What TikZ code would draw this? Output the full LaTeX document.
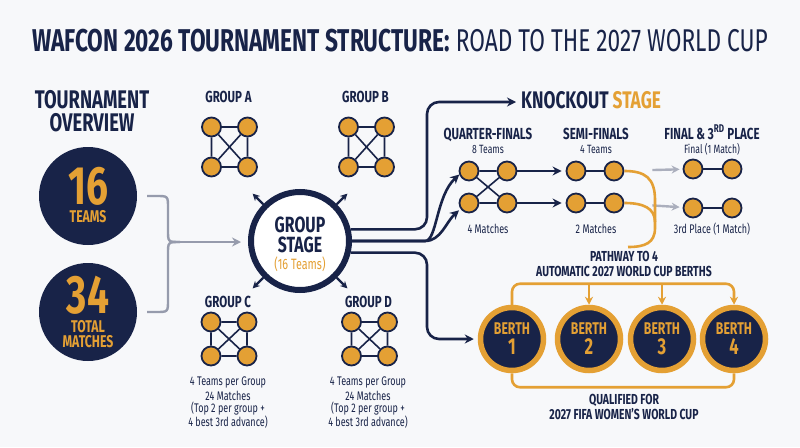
\documentclass[tikz,border=0pt]{standalone}
\usepackage{fontspec}
\setmainfont{Fira Sans}[FakeStretch=0.72]
\usetikzlibrary{arrows.meta,positioning,calc}
\definecolor{wafnavy}{RGB}{24,35,72}
\definecolor{wafgold}{RGB}{228,160,52}
\definecolor{wafbg}{RGB}{247,248,250}
\definecolor{wafgray}{RGB}{150,155,172}
\newcommand{\fsz}[2]{\fontsize{#1}{#2}\selectfont}

\begin{document}
\begin{tikzpicture}[x=1pt,y=-1pt,
    team/.style={circle, draw=wafnavy, line width=1.8pt, fill=wafgold, minimum size=19pt, inner sep=0pt},
    link/.style={wafnavy, line width=1.6pt},
    head/.style={text=wafnavy, align=center, inner sep=1pt},
    goldtxt/.style={text=wafgold, align=center, inner sep=1pt},
    disc/.style={circle, fill=wafnavy, minimum size=98pt, inner sep=0pt},
    berth/.style={circle, fill=wafnavy, draw=wafgold, line width=5.5pt, minimum size=63pt, inner sep=0pt,
                  text=wafgold, align=center},
    flow/.style={wafnavy, line width=2.6pt, -{Stealth[length=9pt,width=9pt]}},
    spoke/.style={wafnavy, line width=2.2pt, -{Stealth[length=7pt,width=7pt]}},
    bracket/.style={wafgray, line width=2.4pt},
    fade/.style={wafgray!80, line width=2.4pt, -{Stealth[length=8pt,width=8pt]}},
    goldline/.style={wafgold, line width=2.6pt},
    goldarrow/.style={goldline, -{Stealth[length=8pt,width=8pt]}}
]
\fill[wafbg] (0,0) rectangle (800,447);
\useasboundingbox (0,0) rectangle (800,447);

% title
\node[head, font=\fsz{31.5}{31.5}] (title) at (400,41)
    {\textbf{WAFCON 2026 TOURNAMENT STRUCTURE:} ROAD TO THE 2027 WORLD CUP};

% overview
\node[head, font=\fsz{25.5}{22.5}\bfseries] (ovl) at (92,111) {TOURNAMENT\\OVERVIEW};
\node[disc] (n16) at (88,196) {};
\node[goldtxt, font=\fsz{17}{15}\bfseries] (n16txt) at (88,195.5) {{\fsz{54}{54}16}\\[3pt]TEAMS};
\node[disc] (n34) at (88,312) {};
\node[goldtxt, font=\fsz{17}{15}\bfseries] (n34txt) at (88,312) {{\fsz{54}{54}34}\\[4pt]TOTAL\\MATCHES};

\coordinate (brc) at (180,242);
\draw[bracket] ([xshift=10pt]n16.east) -- (156,196) .. controls (168,196) .. (168,208)
    -- (168,230) .. controls (168,242) .. (brc);
\draw[bracket] ([xshift=10pt]n34.east) -- (156,312) .. controls (168,312) .. (168,300)
    -- (168,254) .. controls (168,242) .. (brc);

% group stage
\node[circle, draw=wafnavy, fill=white, line width=6pt, minimum size=98pt] (GS) at (300,241) {};
\node[head, font=\fsz{22}{20}\bfseries] (gsl) at (300,235) {GROUP\\STAGE};
\node[goldtxt, font=\fsz{15}{15}] (gsn) at (300,264) {(16 Teams)};
\draw[bracket, -{Stealth[length=9pt,width=9pt]}, shorten >=7pt] (brc) -- (GS.west |- brc);
\foreach \a in {45,135,225,315}
    \draw[spoke] (GS.\a) -- ($(GS.\a)+(\a:15pt)$);

% groups
\foreach \g/\cx/\cy/\hy/\ly in {A/229.5/147/20/97, B/366.5/147/20/97, C/229/339/17/302, D/369.5/339/17/302}{
    \node[head, font=\fsz{16}{16}\bfseries] (lbl\g) at (\cx-1,\ly) {GROUP \g};
    \node[team] (\g1) at (\cx-18,\cy-\hy) {};
    \node[team] (\g2) at (\cx+18,\cy-\hy) {};
    \node[team] (\g3) at (\cx-18,\cy+\hy) {};
    \node[team] (\g4) at (\cx+18,\cy+\hy) {};
    \draw[link] (\g1) -- (\g2) (\g2) -- (\g4) (\g4) -- (\g3) (\g3) -- (\g1)
                (\g1) -- (\g4) (\g2) -- (\g3);
}
\foreach \g/\cx in {C/228, D/368}{
    \node[head, font=\fsz{12.5}{12.5}, anchor=base] (tpg\g) at (\cx,385) {4 Teams per Group};
    \node[head, font=\fsz{12.5}{10.5}, anchor=north] (mat\g) at (\cx,390)
        {24 Matches\\(Top 2 per group +\\4 best 3rd advance)};
}

% knockout stage
\node[head, font=\fsz{24}{24}\bfseries, anchor=base west] (kot) at (520,108)
    {KNOCKOUT \textcolor{wafgold}{STAGE}};

\node[team] (Q1) at (469,171) {};
\node[team] (Q2) at (507,171) {};
\node[team] (Q3) at (469,203) {};
\node[team] (Q4) at (507,203) {};
\draw[link] (Q1) -- (Q2) (Q3) -- (Q4) (Q1) -- (Q4) (Q3) -- (Q2);

\node[team] (S1) at (576,171) {};
\node[team] (S2) at (614,171) {};
\node[team] (S3) at (576,203) {};
\node[team] (S4) at (614,203) {};
\draw[link] (S1) -- (S2) (S3) -- (S4);

\node[team] (F1) at (693,169) {};
\node[team] (F2) at (732,169) {};
\node[team] (F3) at (693,208) {};
\node[team] (F4) at (732,208) {};
\draw[link] (F1) -- (F2) (F3) -- (F4);

\foreach \n/\cx/\t/\s/\m in {qf/488/QUARTER-FINALS/8 Teams/4 Matches,
                             sf/596/SEMI-FINALS/4 Teams/2 Matches,
                             fi/712/FINAL \& 3\textsuperscript{RD} PLACE/Final (1 Match)/3rd Place (1 Match)}{
    \node[head, font=\fsz{16}{16}\bfseries, anchor=base] (\n head) at (\cx,139) {\t};
    \node[head, font=\fsz{12}{12}, anchor=base] (\n sub) at (\cx,153) {\s};
    \node[head, font=\fsz{12.5}{12.5}, anchor=base] (\n mat) at (\cx,233) {\m};
}

\draw[flow, shorten >=4pt] (Q2) -- (S1);
\draw[flow, shorten >=4pt] (Q4) -- (S3);
\draw[fade, shorten <=28pt, shorten >=3pt] (S2) -- (F1);
\draw[fade, shorten <=28pt, shorten >=3pt] (S4) -- (F3);

% flows out of the group stage
\coordinate (kobend) at (427,102);
\coordinate (bbend) at (427,339);
\coordinate (split) at (425,241);
\draw[flow, rounded corners=12pt, shorten >=4pt] (GS.13) -| (kobend) -- (kobend -| kot.west);
\draw[flow] (GS.east) -- (split) .. controls (437,241) and (436,196) .. (Q1.200);
\draw[flow, shorten >=2pt] (GS.east) -- (split) .. controls (441,241) and (446,222) .. (Q3.215);

% pathway to berths
\node[head, font=\fsz{14.5}{15}\bfseries] (pw) at (624,264) {PATHWAY TO 4\\AUTOMATIC 2027 WORLD CUP BERTHS};
\coordinate (pwend) at (628,247);
\draw[goldline] (S2.east) .. controls (645,171) and (655,178) .. (655,200) -- (655,228)
    .. controls (655,243) and (645,247) .. (pwend);
\draw[goldline] (S4.east) .. controls (643,203) and (655,208) .. (655,222);

\foreach \i/\bx in {1/512, 2/589, 3/662, 4/734}
    \node[berth, font=\fsz{17}{18}\bfseries] (B\i) at (\bx,339) {BERTH\\[2pt]{\fsz{23}{22}\i}};

\draw[flow, rounded corners=12pt, shorten >=4pt] (GS.-13) -| (bbend) -- (B1.west);

\coordinate (topbar) at ($(B1.north)+(0,-21)$);
\draw[goldarrow, rounded corners=8pt] (B1.north) -- (topbar) -| (B4.north);
\draw[goldarrow] (B2.north |- topbar) -- (B2.north);
\draw[goldarrow] (B3.north |- topbar) -- (B3.north);
\draw[goldline, rounded corners=8pt] (B1.south) -- ++(0,14) -| (B4.south);

\node[head, font=\fsz{14.5}{15}\bfseries] (qual) at (624,407) {QUALIFIED FOR\\2027 FIFA WOMEN’S WORLD CUP};
\end{tikzpicture}
\end{document}
